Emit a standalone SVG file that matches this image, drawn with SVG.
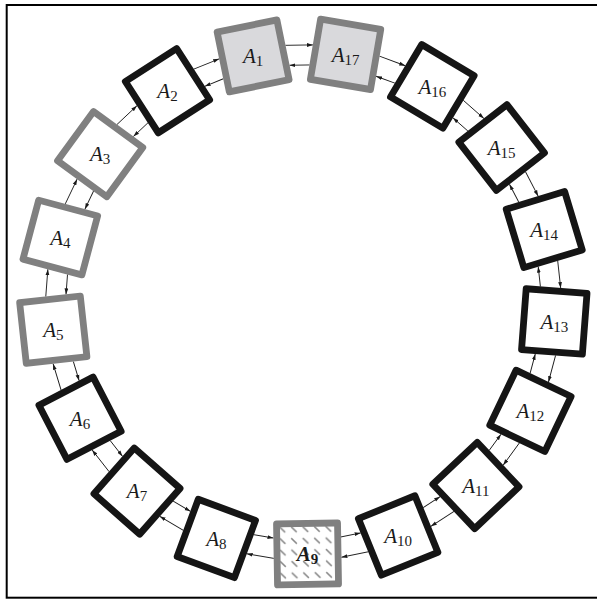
<svg xmlns="http://www.w3.org/2000/svg" xmlns:xlink="http://www.w3.org/1999/xlink" width="597" height="599" viewBox="0 0 597 599">
<style>
.box{stroke-width:6.8;stroke-linejoin:round}
.blk{fill:#fff;stroke:#151515}
.gry{fill:#fff;stroke:#808080}
.gryf{fill:#d9d9dc;stroke:#808080}
.hat{fill:url(#hatch);stroke:#808080}
.lb{font-family:"Liberation Serif","Times New Roman",serif;font-size:21px;font-style:italic;text-anchor:middle;fill:#1a1a1a}
.sb{font-style:normal;font-size:15px}
.bd{font-weight:bold}
.cn{stroke:#1a1a1a;stroke-width:0.9;fill:none;marker-end:url(#ah)}
</style>
<defs>
<marker id="ah" markerWidth="6" markerHeight="5" refX="6" refY="2.5" orient="auto" markerUnits="userSpaceOnUse">
<path d="M0,0.6 L6,2.5 L0,4.4 z" fill="#1a1a1a"/>
</marker>
<pattern id="hatch" width="11.5" height="11.5" patternUnits="userSpaceOnUse" x="272.9" y="523.5">
<rect width="11.5" height="11.5" fill="#fff"/>
<path d="M3,3 L8.5,8.5" stroke="#858585" stroke-width="1.4"/>
</pattern>
<g id="pair">
<path class="cn" d="M293.37,539.72 L313.43,539.72"/>
<path class="cn" d="M317.16,559.72 L289.64,559.72"/>
</g>
<rect id="sq" x="272.9" y="523.5" width="61" height="61"/>
</defs>
<rect x="6.7" y="5" width="600" height="592.7" fill="none" stroke="#000" stroke-width="2"/>
<g id="connectors">
<use xlink:href="#pair" transform="rotate(157.88 303.4 302.4)"/>
<use xlink:href="#pair" transform="rotate(136.71 303.4 302.4)"/>
<use xlink:href="#pair" transform="rotate(115.53 303.4 302.4)"/>
<use xlink:href="#pair" transform="rotate(94.35 303.4 302.4)"/>
<use xlink:href="#pair" transform="rotate(73.18 303.4 302.4)"/>
<use xlink:href="#pair" transform="rotate(52.00 303.4 302.4)"/>
<use xlink:href="#pair" transform="rotate(30.82 303.4 302.4)"/>
<use xlink:href="#pair" transform="rotate(9.65 303.4 302.4)"/>
<use xlink:href="#pair" transform="rotate(-11.53 303.4 302.4)"/>
<use xlink:href="#pair" transform="rotate(-32.71 303.4 302.4)"/>
<use xlink:href="#pair" transform="rotate(-53.88 303.4 302.4)"/>
<use xlink:href="#pair" transform="rotate(-75.06 303.4 302.4)"/>
<use xlink:href="#pair" transform="rotate(-96.24 303.4 302.4)"/>
<use xlink:href="#pair" transform="rotate(-117.41 303.4 302.4)"/>
<use xlink:href="#pair" transform="rotate(-138.59 303.4 302.4)"/>
<use xlink:href="#pair" transform="rotate(-159.77 303.4 302.4)"/>
<use xlink:href="#pair" transform="rotate(-180.94 303.4 302.4)"/>
</g>
<g id="A1"><use xlink:href="#sq" class="box gryf" transform="rotate(168.47 303.4 302.4)"/><text class="lb" x="253.1" y="63.2">A<tspan class="sb" dy="3">1</tspan></text></g>
<g id="A2"><use xlink:href="#sq" class="box blk" transform="rotate(147.30 303.4 302.4)"/><text class="lb" x="167.5" y="98">A<tspan class="sb" dy="3">2</tspan></text></g>
<g id="A3"><use xlink:href="#sq" class="box gry" transform="rotate(126.12 303.4 302.4)"/><text class="lb" x="100.2" y="161.4">A<tspan class="sb" dy="3">3</tspan></text></g>
<g id="A4"><use xlink:href="#sq" class="box gry" transform="rotate(104.94 303.4 302.4)"/><text class="lb" x="60.3" y="244.8">A<tspan class="sb" dy="3">4</tspan></text></g>
<g id="A5"><use xlink:href="#sq" class="box gry" transform="rotate(83.77 303.4 302.4)"/><text class="lb" x="53.3" y="337">A<tspan class="sb" dy="3">5</tspan></text></g>
<g id="A6"><use xlink:href="#sq" class="box blk" transform="rotate(62.59 303.4 302.4)"/><text class="lb" x="80.0" y="425.5">A<tspan class="sb" dy="3">6</tspan></text></g>
<g id="A7"><use xlink:href="#sq" class="box blk" transform="rotate(41.41 303.4 302.4)"/><text class="lb" x="137.0" y="498.4">A<tspan class="sb" dy="3">7</tspan></text></g>
<g id="A8"><use xlink:href="#sq" class="box blk" transform="rotate(20.24 303.4 302.4)"/><text class="lb" x="216.4" y="545.8">A<tspan class="sb" dy="3">8</tspan></text></g>
<g id="A9"><use xlink:href="#sq" class="box hat" transform="rotate(-0.94 303.4 302.4)"/><text class="lb bd" x="307.5" y="561.3">A<tspan class="sb" dy="3">9</tspan></text></g>
<g id="A10"><use xlink:href="#sq" class="box blk" transform="rotate(-22.12 303.4 302.4)"/><text class="lb" x="398.1" y="542.8">A<tspan class="sb" dy="3">10</tspan></text></g>
<g id="A11"><use xlink:href="#sq" class="box blk" transform="rotate(-43.29 303.4 302.4)"/><text class="lb" x="475.9" y="492.8">A<tspan class="sb" dy="3">11</tspan></text></g>
<g id="A12"><use xlink:href="#sq" class="box blk" transform="rotate(-64.47 303.4 302.4)"/><text class="lb" x="530.4" y="418.1">A<tspan class="sb" dy="3">12</tspan></text></g>
<g id="A13"><use xlink:href="#sq" class="box blk" transform="rotate(-85.65 303.4 302.4)"/><text class="lb" x="554.3" y="328.8">A<tspan class="sb" dy="3">13</tspan></text></g>
<g id="A14"><use xlink:href="#sq" class="box blk" transform="rotate(-106.82 303.4 302.4)"/><text class="lb" x="544.2" y="236.9">A<tspan class="sb" dy="3">14</tspan></text></g>
<g id="A15"><use xlink:href="#sq" class="box blk" transform="rotate(-128.00 303.4 302.4)"/><text class="lb" x="501.7" y="154.8">A<tspan class="sb" dy="3">15</tspan></text></g>
<g id="A16"><use xlink:href="#sq" class="box blk" transform="rotate(-149.18 303.4 302.4)"/><text class="lb" x="432.3" y="93.6">A<tspan class="sb" dy="3">16</tspan></text></g>
<g id="A17"><use xlink:href="#sq" class="box gryf" transform="rotate(-170.35 303.4 302.4)"/><text class="lb" x="345.6" y="61.6">A<tspan class="sb" dy="3">17</tspan></text></g>
</svg>
